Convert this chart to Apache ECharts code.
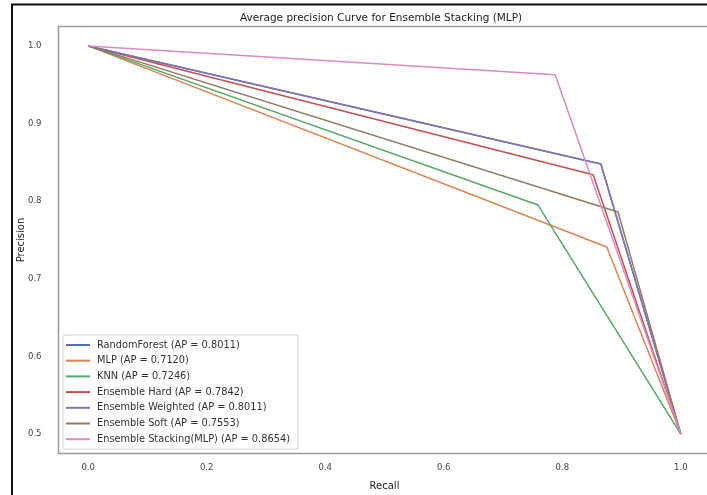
<!DOCTYPE html>
<html>
<head>
<meta charset="utf-8">
<script src="https://cdn.jsdelivr.net/npm/echarts@6/dist/echarts.min.js"></script>
<style>
  html, body { margin: 0; padding: 0; background: #fff; }
  #chart { width: 707px; height: 495px; }
</style>
</head>
<body>
<div id="chart"></div>
<script>
// precision/recall points
var modelNames = ['RandomForest', 'MLP', 'KNN', 'Ensemble Hard', 'Ensemble Weighted', 'Ensemble Soft', 'Ensemble Stacking(MLP)'];
var apScores = ['0.8011', '0.7120', '0.7246', '0.7842', '0.8011', '0.7553', '0.8654'];
var kneeRecall = [0.865, 0.875, 0.759, 0.852, 0.865, 0.894, 0.788];
var kneePrecision = [0.848, 0.741, 0.795, 0.834, 0.848, 0.786, 0.963];
var curveStart = [0.0, 1.0];
var curveEnd = [1.0, 0.5];
var xTicks = [0.0, 0.2, 0.4, 0.6, 0.8, 1.0];
var yTicks = [0.5, 0.6, 0.7, 0.8, 0.9, 1.0];

var palette = ['#4C72B0', '#DD8452', '#55A868', '#C44E52', '#8172B3', '#937860', '#DA8BC3'];
var font = 'DejaVu Sans';

function onTick(v, ticks) {
    for (var i = 0; i < ticks.length; i++) {
        if (Math.abs(v - ticks[i]) < 1e-6) return true;
    }
    return false;
}

var series = modelNames.map(function (name, i) {
    return {
        name: name + ' (AP = ' + apScores[i] + ')',
        type: 'line',
        symbol: 'none',
        silent: true,
        lineStyle: { width: 1.5, color: palette[i] },
        itemStyle: { color: palette[i] },
        data: [curveStart, [kneeRecall[i], kneePrecision[i]], curveEnd]
    };
});

var chart = echarts.init(document.getElementById('chart'), null, { renderer: 'canvas' });
chart.setOption({
    animation: false,
    backgroundColor: '#fff',
    color: palette,
    title: {
        text: 'Average precision Curve for Ensemble Stacking (MLP)',
        left: 376, top: 8, textAlign: 'center',
        textStyle: { fontFamily: font, fontSize: 10.5, fontWeight: 'normal', color: '#222' }
    },
    graphic: [{
        type: 'rect', silent: true, z: 100,
        shape: { x: 12, y: 4.5, width: 800, height: 600 },
        style: { fill: 'none', stroke: '#111', lineWidth: 2 }
    }],
    grid: {
        show: true, left: 58.5, top: 26.5, width: 652, height: 427,
        outerBoundsMode: 'none', containLabel: false,
        borderColor: '#9a9a9a', borderWidth: 1.5, backgroundColor: '#fff'
    },
    legend: {
        orient: 'vertical', left: 63, top: 335,
        padding: [4, 8, 4, 3],
        backgroundColor: '#fff', borderColor: '#d0d0d0', borderWidth: 1, borderRadius: 2,
        icon: 'rect', itemWidth: 24, itemHeight: 2, itemGap: 3.7,
        textStyle: { fontFamily: font, fontSize: 9.8, color: '#333', lineHeight: 12, padding: [0, 0, 0, 2] },
        data: series.map(function (s) { return s.name; })
    },
    xAxis: {
        type: 'value', min: -0.05, max: 1.05, interval: 0.05,
        name: 'Recall', nameLocation: 'middle', nameGap: 28, nameMoveOverlap: false,
        nameTextStyle: { fontFamily: font, fontSize: 10, color: '#222' },
        axisLine: { show: false }, axisTick: { show: false }, splitLine: { show: false },
        axisLabel: {
            margin: 10, fontFamily: font, fontSize: 8.5, color: '#444',
            formatter: function (v) { return onTick(v, xTicks) ? v.toFixed(1) : ''; }
        }
    },
    yAxis: {
        type: 'value', min: 0.475, max: 1.025, interval: 0.025,
        name: 'Precision', nameLocation: 'middle', nameGap: 32, nameRotate: 90, nameMoveOverlap: false,
        nameTextStyle: { fontFamily: font, fontSize: 10, color: '#222' },
        axisLine: { show: false }, axisTick: { show: false }, splitLine: { show: false },
        axisLabel: {
            margin: 17, fontFamily: font, fontSize: 8.5, color: '#444',
            formatter: function (v) { return onTick(v, yTicks) ? v.toFixed(1) : ''; }
        }
    },
    series: series
});
</script>
</body>
</html>
